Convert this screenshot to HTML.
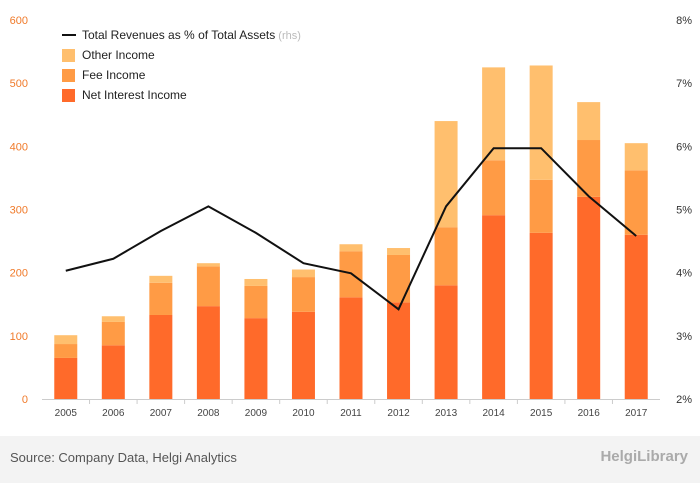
<!DOCTYPE html>
<html><head><meta charset="utf-8"><style>
body{margin:0;width:700px;height:483px;background:#fff;font-family:"Liberation Sans",sans-serif;overflow:hidden}
#footer{position:absolute;left:0;top:436px;width:700px;height:47px;background:#f3f3f3}
</style></head><body>
<svg id="chart" width="700" height="483" style="position:absolute;left:0;top:0"></svg>
<div id="footer">
<div style="position:absolute;left:10px;top:14px;font-size:13px;color:#555">Source: Company Data, Helgi Analytics</div>
<div style="position:absolute;right:12px;top:12px;font-size:15px;color:#aaa;font-weight:bold">HelgiLibrary</div>
</div>
<script>
const years=["2005","2006","2007","2008","2009","2010","2011","2012","2013","2014","2015","2016","2017"];
const netInterest=[65,85,133,147,128,138,161,153,180,291,263,320,260];
const feeIncome=[22,37,51,63,51,55,73,75,92,87,84,90,102];
const otherIncome=[14,9,11,5,11,12,11,11,168,147,181,60,43];
const revPct=[4.03,4.22,4.66,5.05,4.63,4.15,3.99,3.42,5.05,5.97,5.97,5.21,4.58];
const leftTicks=[0,100,200,300,400,500,600];
const rightTicks=[2,3,4,5,6,7,8];
const NS="http://www.w3.org/2000/svg",svg=document.getElementById('chart');
const x0=42,x1=660,yTop=20,yBot=399;
const yL=v=>yBot-(v/600)*(yBot-yTop);
const yR=v=>yBot-((v-2)/6)*(yBot-yTop);
const step=(x1-x0)/years.length;
const xC=i=>x0+step*(i+0.5);
function mk(t,a){const e=document.createElementNS(NS,t);for(const k in a)e.setAttribute(k,a[k]);svg.appendChild(e);return e;}
let ax=mk('line',{x1:x0,x2:x1,y1:yBot+0.5,y2:yBot+0.5,stroke:'#ccc'});


leftTicks.forEach(v=>{const t=mk('text',{x:28,y:yL(v)+4,'text-anchor':'end','font-size':11,fill:'#f07a2a'});t.textContent=v;

});
rightTicks.forEach(v=>{const t=mk('text',{x:692,y:yR(v)+4,'text-anchor':'end','font-size':11,fill:'#333'});t.textContent=v+'%';

});
years.forEach((y,i)=>{
 const bw=23,bx=xC(i)-bw/2;
 const segs=[[0,netInterest[i],'#ff6a2a','bar-net-interest'],[netInterest[i],netInterest[i]+feeIncome[i],'#ff9b45','bar-fee-income'],[netInterest[i]+feeIncome[i],netInterest[i]+feeIncome[i]+otherIncome[i],'#ffbf6e','bar-other-income']];
 segs.forEach(s=>{const r=mk('rect',{x:bx,y:yL(s[1]),width:bw,height:yL(s[0])-yL(s[1]),fill:s[2]});
 
 });
 const t=mk('text',{x:xC(i),y:416,'text-anchor':'middle','font-size':10,fill:'#444'});t.textContent=y;
 
 
 if(i>0){const l=mk('line',{x1:x0+step*i,x2:x0+step*i,y1:yBot,y2:yBot+5,stroke:'#ccc'});}
});
const pl=mk('polyline',{points:revPct.map((v,i)=>xC(i)+','+yR(v)).join(' '),fill:'none',stroke:'#111','stroke-width':2});


const leg=[['line','#111','Total Revenues as % of Total Assets'],['rect','#ffbf6e','Other Income'],['rect','#ff9b45','Fee Income'],['rect','#ff6a2a','Net Interest Income']];
leg.forEach((l,i)=>{const y=35+i*20;
 if(l[0]=='line')mk('line',{x1:62,x2:76,y1:y,y2:y,stroke:l[1],'stroke-width':2});
 else mk('rect',{x:62,y:y-6,width:13,height:13,fill:l[1]});
 const t=mk('text',{x:82,y:y+4,'font-size':12,fill:'#222'});t.textContent=l[2];
 if(i==0){const s=document.createElementNS(NS,'tspan');s.setAttribute('fill','#bbb');s.setAttribute('font-size',11);s.textContent=' (rhs)';t.appendChild(s);}
 
 
});
</script>
</body></html>
